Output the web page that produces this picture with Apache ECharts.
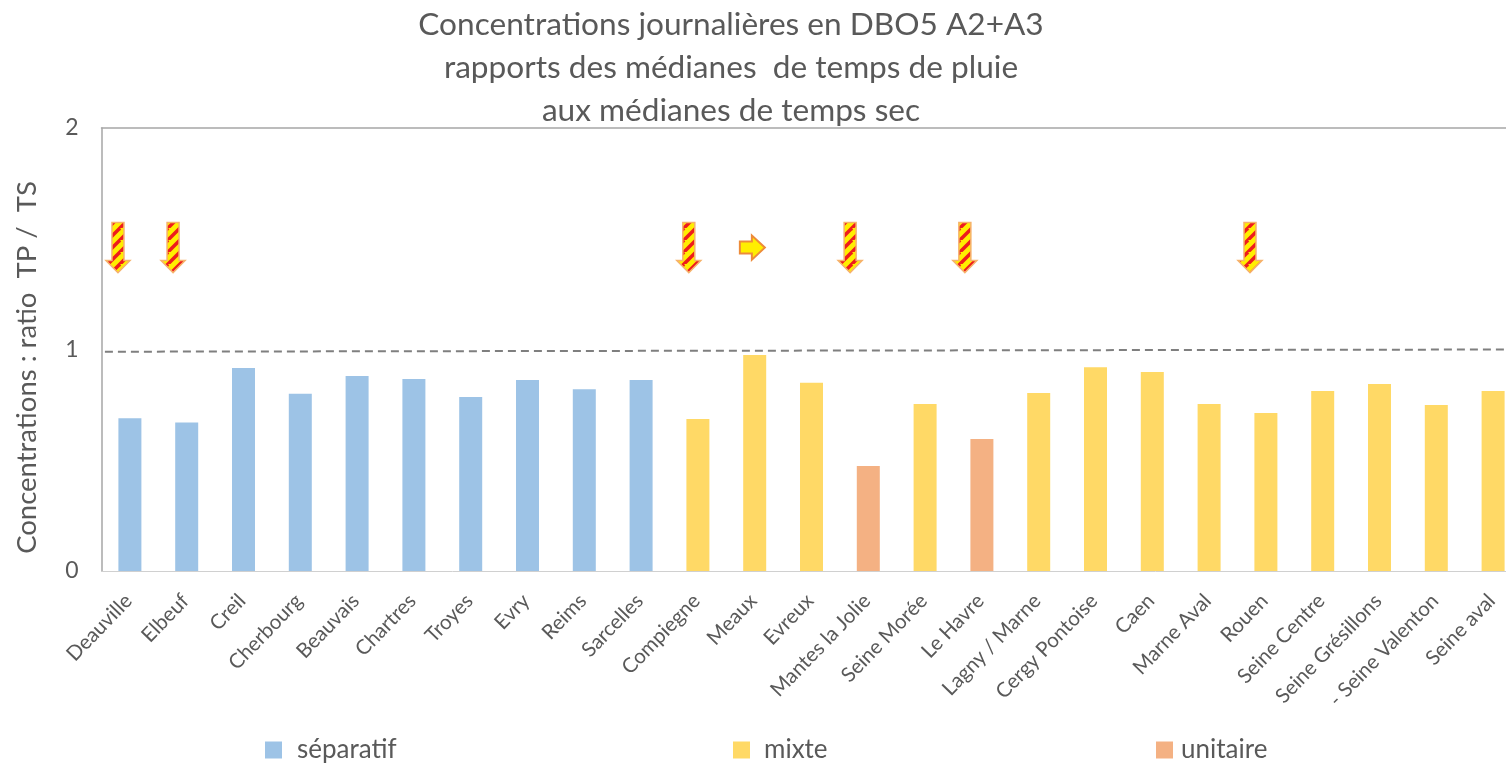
<!DOCTYPE html>
<html lang="fr">
<head>
<meta charset="utf-8">
<title>Concentrations journalières en DBO5</title>
<script src="https://cdn.jsdelivr.net/npm/echarts@6/dist/echarts.min.js"></script>
<style>
html, body { margin: 0; padding: 0; background: #fff; overflow: hidden; }
#main { width: 1506px; height: 764px; }
</style>
</head>
<body>
<div id="main"></div>
<script>
const categories = ['Deauville', 'Elbeuf', 'Creil', 'Cherbourg', 'Beauvais', 'Chartres', 'Troyes', 'Evry', 'Reims', 'Sarcelles',
  'Compiegne', 'Meaux', 'Evreux', 'Mantes la Jolie', 'Seine Morée', 'Le Havre', 'Lagny / Marne', 'Cergy Pontoise', 'Caen',
  'Marne Aval', 'Rouen', 'Seine Centre', 'Seine Grésillons', '- Seine Valenton', 'Seine aval'];
const separatif = [0.69, 0.67, 0.917, 0.80, 0.88, 0.867, 0.785, 0.862, 0.82, 0.862,
  null, null, null, null, null, null, null, null, null, null, null, null, null, null, null];
const mixte = [null, null, null, null, null, null, null, null, null, null,
  0.686, 0.975, 0.85, null, 0.754, null, 0.804, 0.92, 0.898, 0.754, 0.713, 0.813, 0.844, 0.75, 0.813];
const unitaire = [null, null, null, null, null, null, null, null, null, null,
  null, null, null, 0.474, null, 0.596, null, null, null, null, null, null, null, null, null];
// reference line, slightly tilted in the original ([x in category units, ratio])
const refLine = [[0.06, 0.99], [24.73, 1.0]];
// arrows sit off-centre from the bars, so they use the hidden 0-25 x axis
const downArrows = [[0.29, 1.46], [1.26, 1.46], [10.34, 1.46], [13.18, 1.46], [15.2, 1.46], [20.22, 1.46]];
const rightArrows = [[11.45, 1.46]];

const grey = '#595959';
const font = 'Lato, "Open Sans", sans-serif';

// yellow/red diagonal stripes for the down arrows
function stripes() {
  const c = document.createElement('canvas');
  c.width = 12; c.height = 12;
  const g = c.getContext('2d');
  g.fillStyle = '#ffee00';
  g.fillRect(0, 0, 12, 12);
  g.strokeStyle = '#ee1c1c';
  g.lineWidth = 3.5;
  [-12, 0, 12, 24].forEach(function (o) {
    g.beginPath();
    g.moveTo(o - 2, 14);
    g.lineTo(o + 12, 0);
    g.stroke();
  });
  return c;
}
const stripeImage = stripes();

// arrow outlines around the data point, in pixels
const downShape = [[-6, -25], [6, -25], [6, 13], [12, 13], [0, 25], [-12, 13], [-6, 13]];
const rightShape = [[-12, -6], [0, -6], [0, -12], [13, 0], [0, 12], [0, 6], [-12, 6]];

function arrowRender(shape, style) {
  return function (params, api) {
    const p = api.coord([api.value(0), api.value(1)]);
    return {
      type: 'polygon',
      shape: { points: shape.map(function (s) { return [p[0] + s[0], p[1] + s[1]]; }) },
      style: style
    };
  };
}

const chart = echarts.init(document.getElementById('main'), null, { renderer: 'canvas' });

const legendBase = { top: 732, itemWidth: 17, itemHeight: 17, icon: 'rect', selectedMode: false };
const legendText = { color: grey, fontFamily: font, fontSize: 26 };

chart.setOption({
  animation: false,
  backgroundColor: '#fff',
  title: {
    text: 'Concentrations journalières en DBO5 A2+A3\nrapports des médianes  de temps de pluie\naux médianes de temps sec',
    left: 726, top: -2, textAlign: 'center',
    textStyle: { color: grey, fontFamily: font, fontSize: 31.6, fontWeight: 'normal', lineHeight: 43 }
  },
  legend: [
    Object.assign({}, legendBase, { left: 260, data: ['séparatif'], textStyle: Object.assign({ padding: [0, 0, 0, 10] }, legendText) }),
    Object.assign({}, legendBase, { left: 728, data: ['mixte'], textStyle: Object.assign({ padding: [0, 0, 0, 9] }, legendText) }),
    Object.assign({}, legendBase, { left: 1151, data: ['unitaire'], textStyle: Object.assign({ padding: [0, 0, 0, 3] }, legendText) })
  ],
  grid: { left: 101.5, top: 128, width: 1420, height: 443, outerBoundsMode: 'none' },
  xAxis: [
    {
      type: 'category', data: categories,
      axisLine: { lineStyle: { color: '#d0d0d0', width: 1 } },
      axisTick: { show: false },
      axisLabel: { interval: 0, rotate: 46, margin: 25, padding: [0, 2, 0, 0], color: grey, fontFamily: font, fontSize: 20.5 }
    },
    {
      type: 'value', position: 'top', min: 0, max: 25,
      axisLine: { show: true, onZero: false, lineStyle: { color: '#a6a6a6', width: 1.5 } },
      axisTick: { show: false }, axisLabel: { show: false }, splitLine: { show: false }
    }
  ],
  yAxis: {
    type: 'value', min: 0, max: 2, interval: 1,
    name: 'Concentrations : ratio  TP /  TS',
    nameLocation: 'middle', nameGap: 60, nameRotate: 90,
    nameTextStyle: { color: grey, fontFamily: font, fontSize: 27.5, padding: [0, 36, 0, 0] },
    axisLine: { show: true, lineStyle: { color: '#a6a6a6', width: 1.5 } },
    axisTick: { show: false },
    axisLabel: { margin: 23, color: grey, fontFamily: font, fontSize: 23 },
    splitLine: { show: false }
  },
  series: [
    { name: 'séparatif', type: 'bar', stack: 'v', data: separatif, barWidth: 23, itemStyle: { color: '#9dc3e6' } },
    { name: 'mixte', type: 'bar', stack: 'v', data: mixte, barWidth: 23, itemStyle: { color: '#ffd966' } },
    { name: 'unitaire', type: 'bar', stack: 'v', data: unitaire, barWidth: 23, itemStyle: { color: '#f4b183' } },
    {
      type: 'line', xAxisIndex: 1, data: refLine, symbol: 'none', silent: true,
      lineStyle: { color: '#7f7f7f', width: 2, type: [8, 5] }
    },
    {
      type: 'custom', xAxisIndex: 1, data: downArrows, silent: true,
      renderItem: arrowRender(downShape, {
        fill: { image: stripeImage, repeat: 'repeat' }, stroke: '#f6b26b', lineWidth: 1.5
      })
    },
    {
      type: 'custom', xAxisIndex: 1, data: rightArrows, silent: true,
      renderItem: arrowRender(rightShape, { fill: '#ffee00', stroke: '#ed8b3a', lineWidth: 2 })
    }
  ]
});
</script>
</body>
</html>
